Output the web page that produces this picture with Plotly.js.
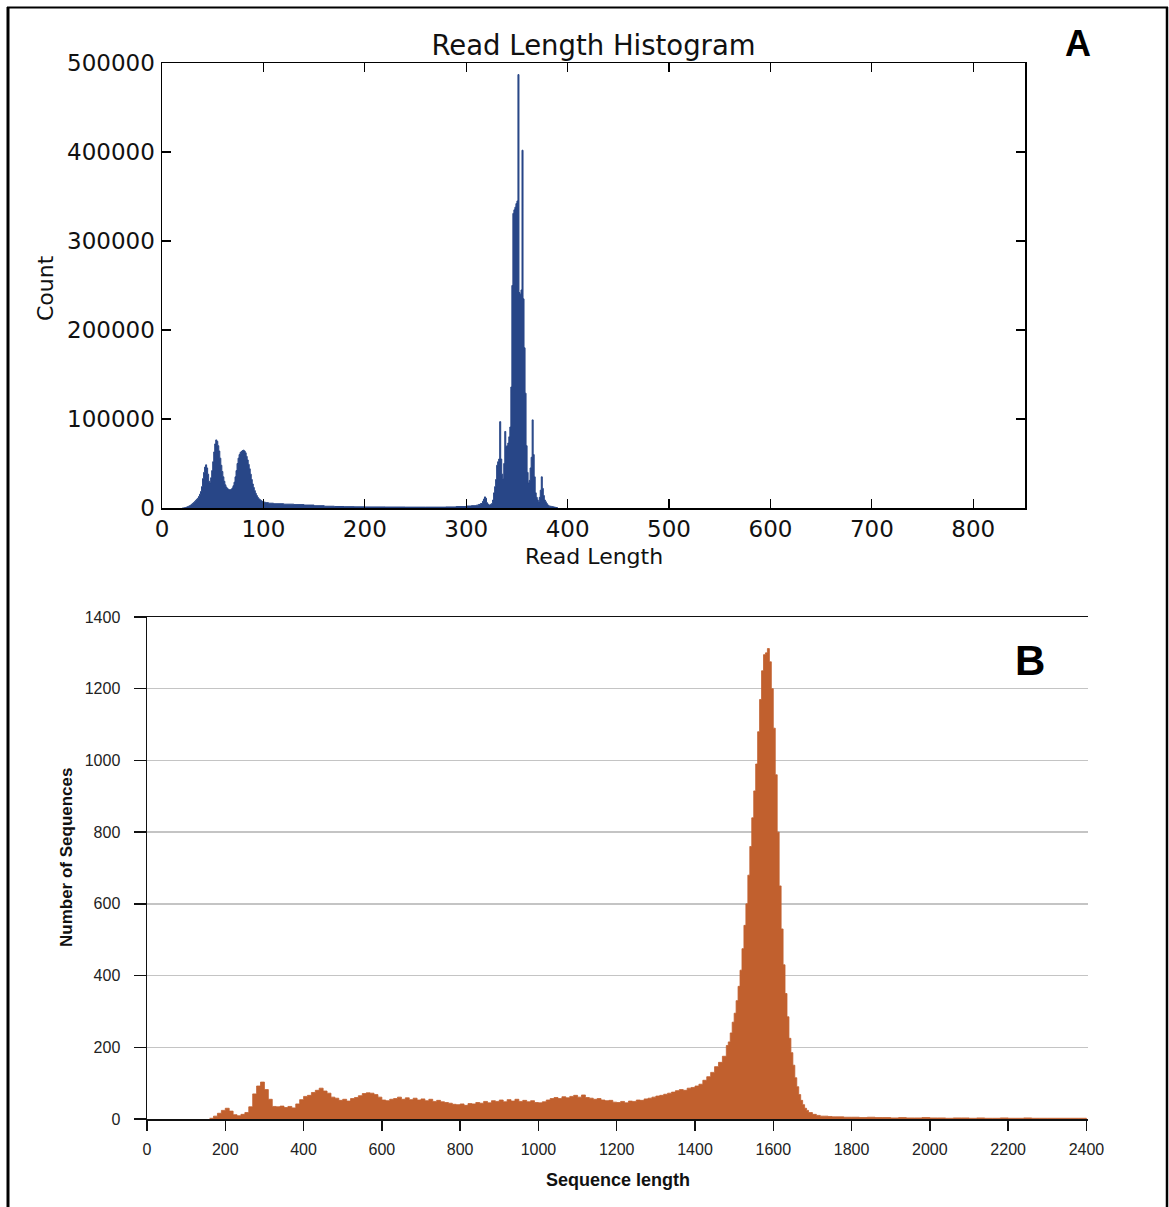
<!DOCTYPE html>
<html>
<head>
<meta charset="utf-8">
<script src="https://cdn.plot.ly/plotly-3.0.1.min.js"></script>
<style>html,body{margin:0;padding:0;background:#fff;}#chart{width:1169px;height:1207px;}</style>
</head>
<body>
<div id="chart"></div>
<script>
// ---------- Panel A: Read Length Histogram (bin start, count) ----------
const lenA = [20,22,23,24,25,26,27,28,29,30,31,32,33,34,35,36,37,38,39,40,
  41,42,43,44,45,46,47,48,49,50,51,52,53,54,55,56,57,58,59,60,
  61,62,63,64,65,66,67,68,69,70,71,72,73,74,75,76,77,78,79,80,
  81,82,83,84,85,86,87,88,89,90,91,92,93,94,95,96,97,98,99,100,
  102,105,110,120,130,140,150,160,170,180,190,200,220,240,260,280,290,300,305,310,
  312,314,316,317,318,319,320,321,322,323,324,325,326,327,328,329,330,331,332,333,
  334,335,336,337,338,339,340,341,342,343,344,345,346,347,348,349,350,351,352,353,
  354,355,356,357,358,359,360,361,362,363,364,365,366,367,368,369,370,371,372,373,
  374,375,376,377,378,379,380,381,382,384,386,388,390];
const countA = [0,300,600,1000,1500,2000,2600,3300,4200,5200,6200,7400,8600,9800,11000,13000,15500,18500,24000,33000,
  40000,46000,48500,45000,38000,30000,28000,34000,42000,52000,63000,72000,76500,75000,70000,64000,56000,48000,41000,35000,
  30000,26000,23500,22000,21000,20500,20500,21000,22500,25000,29000,35000,42000,50000,56000,60000,62500,63500,64500,65000,
  64000,62000,58000,54000,49000,44000,38000,32000,27000,23000,19500,16500,14000,12000,10500,9500,8600,7800,7200,6600,
  6000,5400,4800,4300,3800,3300,2600,2000,1700,1500,1300,1200,1100,1000,1000,1200,1600,2200,2600,3200,
  4000,5000,7500,10000,12500,11000,6000,4500,3500,3500,4200,5000,9000,17000,24000,32000,48000,52000,55000,97000,
  55000,38000,33000,50000,86000,69000,70000,73000,80000,91000,136000,250000,331000,335000,338000,342000,345000,487000,242000,240000,
  245000,402000,235000,180000,129000,70000,40000,28000,31000,45000,57000,99000,60000,35000,17000,12000,9000,7000,12000,20000,
  35000,22000,14000,9000,7000,5000,3500,2500,2000,1500,1000,500,0];
const ticksA_x = [0,100,200,300,400,500,600,700,800];
const ticksA_y = [0,100000,200000,300000,400000,500000];

// ---------- Panel B: Sequence length distribution (bin start, number of sequences) ----------
const lenB = [160,170,180,190,200,210,220,230,240,250,260,270,280,290,300,310,320,330,340,350,
  360,370,380,390,400,410,420,430,440,450,460,470,480,490,500,510,520,530,540,550,
  560,570,580,590,600,610,620,630,640,650,660,670,680,690,700,710,720,730,740,750,
  760,770,780,790,800,810,820,830,840,850,860,870,880,890,900,910,920,930,940,950,
  960,970,980,990,1000,1010,1020,1030,1040,1050,1060,1070,1080,1090,1100,1110,1120,1130,1140,1150,
  1160,1170,1180,1190,1200,1210,1220,1230,1240,1250,1260,1270,1280,1290,1300,1310,1320,1330,1340,1350,
  1360,1370,1380,1390,1400,1410,1420,1430,1440,1450,1460,1470,1480,1485,1490,1495,1500,1505,1510,1515,
  1520,1525,1530,1535,1540,1545,1550,1555,1560,1565,1570,1575,1580,1585,1590,1595,1600,1605,1610,1615,
  1620,1625,1630,1635,1640,1645,1650,1655,1660,1665,1670,1675,1680,1685,1690,1700,1710,1720,1730,1740,
  1750,1760,1780,1800,1820,1840,1860,1880,1900,1920,1940,1960,1980,2000,2020,2040,2060,2080,2100,2120,
  2140,2160,2180,2200,2220,2240,2260,2280,2300,2320,2340,2360,2380,2400];
const countB = [2,8,16,24,30,22,12,9,13,18,34,70,92,103,82,55,35,34,36,32,
  35,31,42,54,63,66,74,80,86,78,72,61,58,52,55,50,57,60,65,71,
  73,72,68,61,53,51,55,57,61,55,59,54,58,53,56,51,55,49,52,48,
  46,44,41,40,42,38,43,42,46,44,49,45,51,49,53,48,54,50,55,49,
  52,48,51,46,45,48,53,57,60,57,62,59,63,66,61,67,60,58,55,57,
  53,51,52,47,46,49,45,50,49,53,52,56,58,61,64,66,69,72,75,79,
  82,80,86,88,92,97,108,118,130,146,158,175,205,215,240,270,295,330,370,415,
  475,540,600,680,760,840,915,990,1080,1170,1250,1295,1300,1312,1275,1200,1090,960,800,650,
  530,430,350,285,225,185,150,115,90,68,52,40,30,24,18,13,10,8,8,7,
  6,6,5,5,4,5,4,4,3,4,3,3,4,3,3,2,3,3,2,3,
  2,2,3,2,2,3,2,2,2,2,2,2,2,0];
const ticksB_x = [0,200,400,600,800,1000,1200,1400,1600,1800,2000,2200,2400];
const ticksB_y = [0,200,400,600,800,1000,1200,1400];

// ---------- layout helpers ----------
const W = 1169, H = 1207;
const px = v => v / W;
const py = v => 1 - v / H;

const colA = '#284687';
const colB = '#c1602e';
const fontA = 'DejaVu Sans';
const fontB = 'Liberation Sans, Arial, sans-serif';

const traces = [
  {
    type: 'scatter', mode: 'lines', x: lenA, y: countA,
    line: {shape: 'hv', color: colA, width: 1},
    fill: 'tozeroy', fillcolor: colA,
    xaxis: 'x', yaxis: 'y', hoverinfo: 'skip'
  },
  {
    type: 'scatter', mode: 'lines', x: lenB, y: countB,
    line: {shape: 'hv', color: colB, width: 0.8},
    fill: 'tozeroy', fillcolor: colB,
    xaxis: 'x2', yaxis: 'y2', hoverinfo: 'skip'
  }
];

const axA = {
  showline: true, linecolor: '#000', linewidth: 1.5, mirror: 'ticks',
  ticks: 'inside', ticklen: 9, tickwidth: 1.2, tickcolor: '#000',
  showgrid: false, zeroline: false,
  tickfont: {family: fontA, size: 23, color: '#111'}
};

const layout = {
  width: W, height: H,
  margin: {l: 0, r: 0, t: 0, b: 0},
  paper_bgcolor: '#fff', plot_bgcolor: '#fff',
  showlegend: false,
  title: {
    text: 'Read Length Histogram',
    x: px(593.5), xanchor: 'center', xref: 'paper',
    y: py(45), yanchor: 'middle', yref: 'container',
    font: {family: fontA, size: 27.5, color: '#111'}
  },
  xaxis: Object.assign({}, axA, {
    domain: [px(162), px(1025)], anchor: 'y', range: [0, 851],
    tickmode: 'array', tickvals: ticksA_x, ticklabelstandoff: 0
  }),
  yaxis: Object.assign({}, axA, {
    domain: [py(508), py(63)], anchor: 'x', range: [0, 500000],
    tickmode: 'array', tickvals: ticksA_y, tickformat: 'd', ticklabelstandoff: 1
  }),
  xaxis2: {
    domain: [px(147), px(1088)], anchor: 'y2', range: [0, 2404],
    showline: true, linecolor: '#111', linewidth: 1.5, mirror: true,
    ticks: 'outside', ticklen: 10, tickwidth: 1.5, tickcolor: '#111',
    showgrid: false, zeroline: false,
    tickmode: 'array', tickvals: ticksB_x, ticklabelstandoff: 5,
    tickfont: {family: fontB, size: 16, color: '#222'}
  },
  yaxis2: {
    domain: [py(1119), py(617)], anchor: 'x2', range: [0, 1400],
    showline: true, linecolor: '#111', linewidth: 1.5, mirror: false,
    ticks: 'outside', ticklen: 12, tickwidth: 1.5, tickcolor: '#111',
    showgrid: true, gridcolor: '#c4c4c4', gridwidth: 1.5, zeroline: false,
    tickmode: 'array', tickvals: ticksB_y, ticklabelstandoff: 10,
    tickfont: {family: fontB, size: 16, color: '#222'}
  },
  annotations: [
    {text: 'Count', xref: 'paper', yref: 'paper', x: px(45), y: py(288), textangle: -90,
     showarrow: false, xanchor: 'center', yanchor: 'middle', font: {family: fontA, size: 22, color: '#111'}},
    {text: 'Read Length', xref: 'paper', yref: 'paper', x: px(593.5), y: py(556),
     showarrow: false, xanchor: 'center', yanchor: 'middle', font: {family: fontA, size: 22, color: '#111'}},
    {text: '<b>A</b>', xref: 'paper', yref: 'paper', x: px(1078), y: py(43),
     showarrow: false, xanchor: 'center', yanchor: 'middle', font: {family: fontB, size: 36, color: '#000'}},
    {text: '<b>B</b>', xref: 'paper', yref: 'paper', x: px(1030), y: py(661),
     showarrow: false, xanchor: 'center', yanchor: 'middle', font: {family: fontB, size: 42, color: '#000'}},
    {text: '<b>Number of Sequences</b>', xref: 'paper', yref: 'paper', x: px(66), y: py(857), textangle: -90,
     showarrow: false, xanchor: 'center', yanchor: 'middle', font: {family: fontB, size: 17, color: '#111'}},
    {text: '<b>Sequence length</b>', xref: 'paper', yref: 'paper', x: px(618), y: py(1180),
     showarrow: false, xanchor: 'center', yanchor: 'middle', font: {family: fontB, size: 18, color: '#111'}}
  ],
  shapes: [
    {type: 'line', xref: 'paper', yref: 'paper', x0: px(8), x1: px(8), y0: 0, y1: py(7), line: {color: '#000', width: 3}},
    {type: 'line', xref: 'paper', yref: 'paper', x0: px(7), x1: px(1168), y0: py(7.5), y1: py(7.5), line: {color: '#000', width: 2}},
    {type: 'line', xref: 'paper', yref: 'paper', x0: px(1167), x1: px(1167), y0: 0, y1: py(7), line: {color: '#000', width: 2.5}}
  ]
};

Plotly.newPlot('chart', traces, layout, {displayModeBar: false, staticPlot: true});
</script>
</body>
</html>
